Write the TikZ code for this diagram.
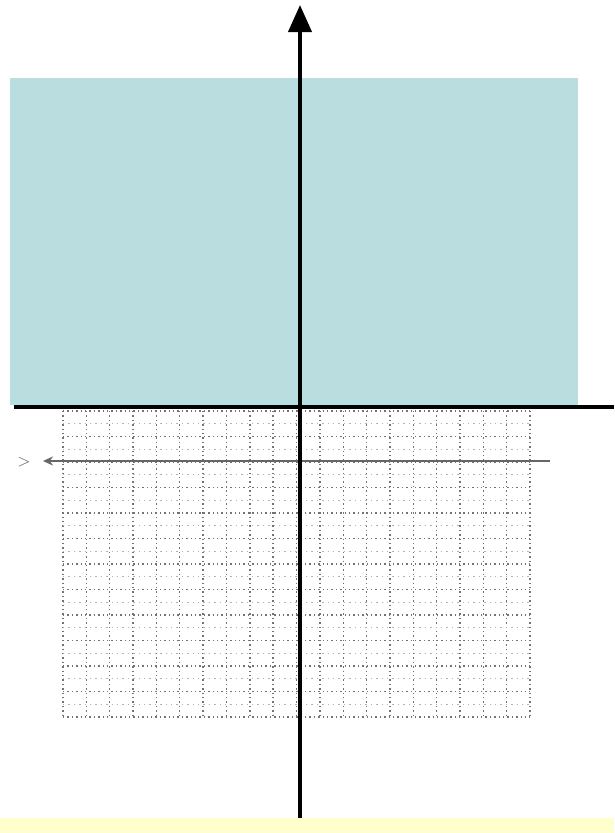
\documentclass[tikz,border=0pt]{standalone}
\usepackage{xcolor}
\definecolor{colShade}{RGB}{186,222,224}
\definecolor{colStrip}{RGB}{255,255,206}
\colorlet{colGrid}{black!55}
\usetikzlibrary{arrows.meta}

\begin{document}
\begin{tikzpicture}[
				x=1pt, y=-1pt,
				axis/.style={line width=4.5pt, black},
				majorgrid/.style={colGrid, line width=1.4pt, dash pattern=on 1.4pt off 3pt},
				minorgrid/.style={black!30, line width=1.2pt, dash pattern=on 1.4pt off 4pt},
				gridaxis/.style={black!60, line width=1.8pt}
			]
				\useasboundingbox (0,0) rectangle (614,833);
				\fill[white] (0,0) rectangle (614,833);
				\fill[colStrip] (0,818) rectangle (614,833);
				\fill[colShade] (10,78) rectangle (578,405);
				\foreach \i in {0,...,20}
				     \draw[majorgrid] (63+\i*23.35,411) -- (63+\i*23.35,718);
				\foreach \j in {0,...,11}
				     \draw[minorgrid] (63,423.75+\j*25.5) -- (530,423.75+\j*25.5);
				\foreach \j in {0,...,12}
				     \draw[majorgrid] (63,411+\j*25.5) -- (530,411+\j*25.5);
				\coordinate (gr) at (550,461);
				\coordinate (gl) at (43,461);
				\node[text=black!65, font=\LARGE, inner sep=0pt] (glab) at (24,462) {$>$};
				\draw[gridaxis, -{Stealth[length=10pt, width=9pt]}] (gr) -- (gl);
				\coordinate (xl) at (14,407);
				\coordinate (xr) at (614,407);
				\coordinate (yb) at (300,818);
				\coordinate (yt) at (300,5);
				\draw[axis] (xl) -- (xr);
				\draw[axis, line width=4pt, -{Triangle[length=27pt, width=23pt]}] (yb) -- (yt);
			\end{tikzpicture}
\end{document}
